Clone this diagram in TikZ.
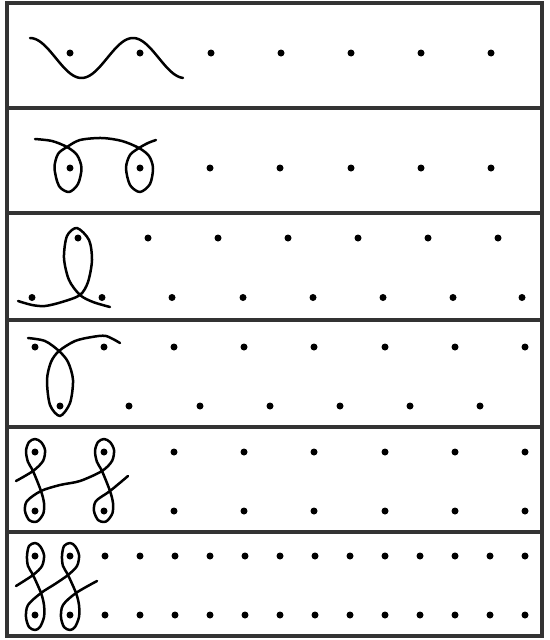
\documentclass[tikz,border=0pt]{standalone}
\begin{document}
\begin{tikzpicture}[x=1pt,y=-1pt,
  curve/.style={line width=2.5pt, line cap=round, line join=round},
  frame/.style={line width=3.2pt, draw=black!80},
  pt/.style={fill=black}]
\useasboundingbox (0,0) rectangle (549,640);
\fill[white] (0,0) rectangle (549,640);
% frames
\draw[frame] (7,3) rectangle (542,636);
\foreach \yy in {108,213,320,427,532} \draw[frame] (7,\yy) -- (542,\yy);
% dots
\foreach \x in {70,140,211,281,351,421,491} \fill[pt] (\x,53) circle (3.5pt);
\foreach \x in {70,140,210,280,351,421,491} \fill[pt] (\x,168) circle (3.5pt);
\foreach \x in {78,148,218,288,358,428,498} \fill[pt] (\x,238) circle (3.5pt);
\foreach \x in {32,102,172,243,313,383,453,522} \fill[pt] (\x,297.5) circle (3.5pt);
\foreach \x in {35,104,174,244,314,385,455,525} \fill[pt] (\x,347) circle (3.5pt);
\foreach \x in {60,129,200,270,340,410,480} \fill[pt] (\x,406) circle (3.5pt);
\foreach \x in {35,104,174,244,314,385,455,525} {\fill[pt] (\x,452) circle (3.5pt); \fill[pt] (\x,511) circle (3.5pt);}
\foreach \k in {0,...,14} {\fill[pt] ({35+35*\k},556) circle (3.5pt); \fill[pt] ({35+35*\k},615) circle (3.5pt);}
% row 1 wave
\draw[curve] plot[domain=30:183,samples=80,smooth] (\x,{58-20*cos(3.49515*(\x-30))});
% row 2
\draw[curve] plot[smooth] coordinates {(35,139) (52,141) (67,147) (77,155) (81.5,168) (78,184) (69,192) (59,186) (54.5,168) (58,154) (67,147) (80,140) (102,138) (122,141) (139,148) (149,156) (153,168) (150,184) (140,192) (130,185) (126,168) (130,155) (139,148) (148,143) (156,140)};
% row 3
\draw[curve] plot[smooth] coordinates {(18,301) (32,305) (45,306) (62,302) (80,295) (88,282) (92,260) (89,240) (77,228) (67,236) (64,258) (69,280) (80,295) (93,302) (110,307)};
% row 4
\draw[curve] plot[smooth] coordinates {(28,338) (45,341) (59,351) (68,362) (73,380) (70,403) (60,416) (50,405) (47,380) (51,362) (59,351) (75,341) (92,337) (106,336) (120,343)};
% row 5
\draw[curve] plot[smooth] coordinates {(16,481) (33,471) (43,461) (45,450) (41,442) (35,439) (29,442) (26,451) (28,462) (33,471) (41,491) (44,503) (43.5,513) (39,520) (35,522) (29,520) (25,511) (27,501) (41,491) (60,485) (80,481) (102,471) (112,461) (114,450) (110,442) (104,439) (98,442) (95,451) (97,462) (102,471) (110,491) (113,503) (112.5,513) (108,520) (104,522) (98,520) (94,511) (96,501) (110,491) (128,476)};
% row 6
\draw[curve] plot[smooth] coordinates {(16,586) (33,575) (42,566) (44,555) (40,546) (35,543) (29,546) (27,556) (28,566) (33,575) (41,593) (44,605) (44,617) (40,627) (35,630) (29,627) (26,617) (28,605) (41,593) (55,584) (68,575) (77,566) (79,555) (75,546) (70,543) (64,546) (62,556) (63,566) (68,575) (76,593) (79,605) (79,617) (75,627) (70,630) (64,627) (61,617) (63,605) (76,593) (97,581)};
\end{tikzpicture}
\end{document}
